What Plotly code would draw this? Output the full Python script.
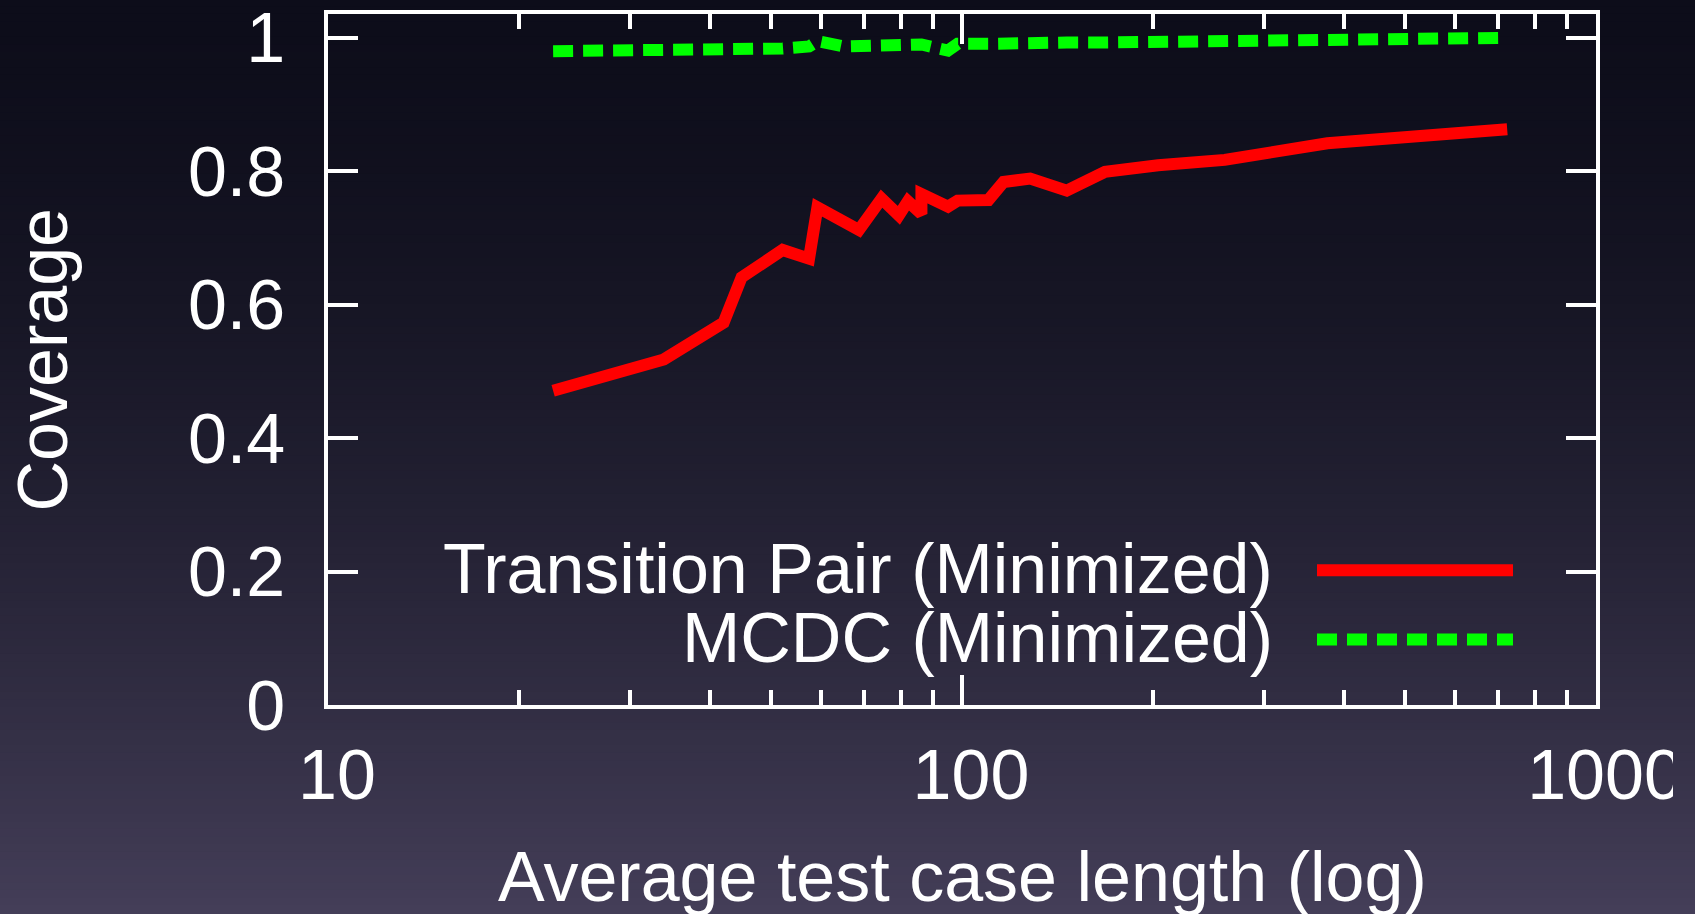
import plotly.graph_objects as go

# ---- data ----
avg_length = [22.65, 33.86, 42.07, 44.91, 52.11, 57.38, 59.15, 65.15, 68.78, 74.67,
              79.5, 82.16, 86.3, 86.3, 95.05, 98.42, 110.1, 116.3, 128.1, 146.3,
              168.1, 203.9, 259.6, 376.9, 724.3]
transition_pair = [0.471, 0.518, 0.573, 0.641, 0.682, 0.669, 0.746, 0.722, 0.712, 0.759,
                   0.734, 0.755, 0.736, 0.766, 0.747, 0.756, 0.757, 0.784, 0.789, 0.771,
                   0.799, 0.809, 0.817, 0.842, 0.863]
mcdc = [0.980, 0.981, 0.982, 0.982, 0.984, 0.987, 0.995, 0.987, 0.987, 0.989,
        0.990, 0.991, 0.990, 0.990, 0.981, 0.991, 0.991, 0.992, 0.992, 0.993,
        0.993, 0.994, 0.996, 0.999, 1.000]

series_names = ["Transition Pair (Minimized)", "MCDC (Minimized)"]
x_tickvals = [10, 100, 1000]
x_ticktext = ["10", "100", "1000"]
x_minor = [20, 30, 40, 50, 60, 70, 80, 90, 200, 300, 400, 500, 600, 700, 800, 900]
y_tickvals = [0, 0.2, 0.4, 0.6, 0.8, 1]
y_ticktext = ["0", "0.2", "0.4", "0.6", "0.8", "1"]

FONT = "Liberation Sans, Arial, Helvetica, sans-serif"
FS = 70
RED = "#ff0000"
GREEN = "#00ff00"

W, H = 1695, 914
L, R, T, B = 328, 99, 14, 209
CLIP_X = 1673  # the reference picture is cut off here

fig = go.Figure()
fig.add_trace(go.Scatter(x=avg_length, y=transition_pair, mode="lines",
                         line=dict(color=RED, width=12), name=series_names[0],
                         showlegend=False))
fig.add_trace(go.Scatter(x=avg_length, y=mcdc, mode="lines",
                         line=dict(color=GREEN, width=12, dash="20px,10px"),
                         name=series_names[1], showlegend=False))

# background gradient (full figure)
shapes = []
top = (13, 13, 26)
bot = (68, 62, 88)
n = 120
plot_h = H - T - B
plot_w = W - L - R
for i in range(n):
    t0 = i / n
    t1 = (i + 1) / n
    tm = (t0 + t1) / 2
    f = tm ** 1.6
    c = tuple(round(top[k] + (bot[k] - top[k]) * f) for k in range(3))
    y0 = (H - B - t0 * H) / plot_h + 0.002
    y1 = (H - B - t1 * H) / plot_h - 0.002
    col = "rgb(%d,%d,%d)" % c
    shapes.append(dict(type="rect", xref="paper", yref="paper",
                       x0=-L / plot_w - 0.01, x1=(W - L) / plot_w + 0.01,
                       y0=y0, y1=y1, layer="below",
                       line=dict(width=0), fillcolor=col))
    shapes.append(dict(type="rect", xref="paper", yref="paper",
                       x0=(CLIP_X - L) / plot_w, x1=(W - L) / plot_w + 0.01,
                       y0=y0, y1=y1, layer="above",
                       line=dict(width=0), fillcolor=col))

# legend samples
lx0 = (1317 - L) / plot_w
lx1 = (1513 - L) / plot_w
shapes.append(dict(type="line", xref="paper", yref="y", x0=lx0, x1=lx1,
                   y0=0.202, y1=0.202, line=dict(color=RED, width=12)))
shapes.append(dict(type="line", xref="paper", yref="y", x0=lx0, x1=lx1,
                   y0=0.098, y1=0.098, line=dict(color=GREEN, width=12, dash="20px,10px")))

ltx = (1275 - L) / plot_w
annotations = [
    dict(text=series_names[0], xref="paper", yref="y", x=ltx, y=0.2045,
         xanchor="right", yanchor="middle", showarrow=False,
         font=dict(family=FONT, size=FS, color="white")),
    dict(text=series_names[1], xref="paper", yref="y", x=ltx, y=0.101,
         xanchor="right", yanchor="middle", showarrow=False,
         font=dict(family=FONT, size=FS, color="white")),
    dict(text="Average test case length (log)", xref="paper", yref="paper",
         x=0.5, y=(H - B - 877) / plot_h, xanchor="center", yanchor="middle",
         showarrow=False, font=dict(family=FONT, size=FS, color="white")),
    dict(text="Coverage", xref="paper", yref="paper", textangle=-90,
         x=(42 - L) / plot_w, y=0.5, xanchor="center", yanchor="middle",
         showarrow=False, font=dict(family=FONT, size=FS, color="white")),
]

fig.update_layout(
    width=W, height=H,
    margin=dict(l=L, r=R, t=T, b=B, pad=0, autoexpand=False),
    paper_bgcolor="rgb(30,28,44)",
    plot_bgcolor="rgba(0,0,0,0)",
    shapes=shapes,
    annotations=annotations,
    showlegend=False,
    font=dict(family=FONT, size=FS, color="white"),
)
fig.update_xaxes(type="log", range=[1, 3], showgrid=False, zeroline=False,
                 automargin=False, ticklabeloverflow="allow",
                 showline=True, linecolor="white", linewidth=3.5, mirror="ticks",
                 ticks="inside", ticklen=30, tickwidth=3.5, tickcolor="white",
                 tickvals=x_tickvals, ticktext=x_ticktext,
                 tickfont=dict(family=FONT, size=FS, color="white"),
                 ticklabelstandoff=6, ticklabelshift=9,
                 minor=dict(ticks="inside", ticklen=15, tickwidth=3.5,
                            tickcolor="white", tickvals=x_minor, showgrid=False))
fig.update_yaxes(range=[0, 1.0357], showgrid=False, zeroline=False,
                 automargin=False, ticklabeloverflow="allow",
                 showline=True, linecolor="white", linewidth=3.5, mirror="ticks",
                 ticks="inside", ticklen=30, tickwidth=3.5, tickcolor="white",
                 tickvals=y_tickvals, ticktext=y_ticktext,
                 tickfont=dict(family=FONT, size=FS, color="white"),
                 ticklabelstandoff=25)

fig.write_html("out.html", config={"displayModeBar": False},
               post_script="document.body.style.margin='0';document.body.style.overflow='hidden';")
